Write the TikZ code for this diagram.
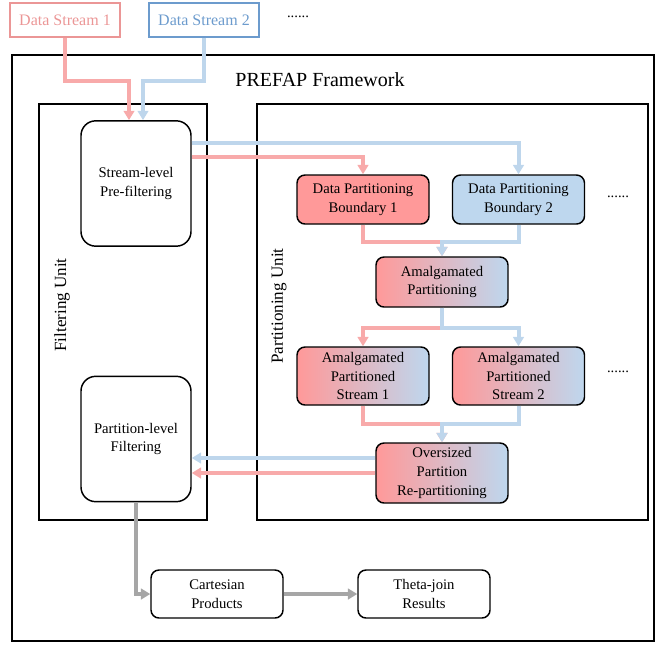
\documentclass[tikz,border=0pt]{standalone}
\usepackage{fontspec}
\setmainfont{Liberation Serif}
\usepackage{xcolor}
\usetikzlibrary{arrows.meta,calc}
\definecolor{lpink}{RGB}{248,170,170}
\definecolor{lblue}{RGB}{190,214,236}
\definecolor{dpink}{RGB}{235,150,150}
\definecolor{dblue}{RGB}{108,155,205}
\definecolor{fpink}{RGB}{255,153,153}
\definecolor{fblue}{RGB}{190,215,238}
\definecolor{lgray}{RGB}{166,166,166}
\tikzset{
    box/.style = {draw, line width=1.1pt, rounded corners=6pt, align=center,
        font=\fontsize{11}{14}\selectfont, minimum width=99pt},
    unit/.style = {box, rounded corners=11pt, minimum width=82.5pt, minimum height=94pt},
    mixed/.style = {box, left color=fpink, right color=fblue},
    src/.style = {draw=#1, text=#1, line width=1.1pt, minimum width=82.5pt,
        minimum height=25.5pt, font=\fontsize{12}{14}\selectfont},
    frame/.style = {draw, line width=1.1pt},
    pinkline/.style = {draw=lpink, line width=3pt, -{Triangle[width=8pt,length=7pt]}},
    blueline/.style = {draw=lblue, line width=3pt, -{Triangle[width=8pt,length=7pt]}},
    grayline/.style = {draw=lgray, line width=3pt, -{Triangle[width=8pt,length=7pt]}}
}

\begin{document}
\begin{tikzpicture}[x=0.75pt,y=-0.75pt]
        \useasboundingbox (0,0) rectangle (657,644);
        \draw[frame] (12,55) rectangle (654,641);
        \draw[frame] (39,104) rectangle (207,520);
        \draw[frame] (257,104) rectangle (648,520);
        \node[font=\fontsize{15}{18}\selectfont] (0) at (320,80) {PREFAP Framework};
        \node[rotate=90, font=\fontsize{12.8}{15}\selectfont] (f) at (62,305) {Filtering Unit};
        \node[rotate=90, font=\fontsize{12.8}{15}\selectfont] (p) at (279,306) {Partitioning Unit};

        \node[src=dpink] (1) at (65,20) {Data Stream 1};
        \node[src=dblue] (2) at (204,20) {Data Stream 2};
        \node[font=\fontsize{11}{14}\selectfont] (d1) at (298,17) {......};
        \node[unit] (3) at (136,183.5) {Stream-level\\Pre-filtering};
        \node[unit] (4) at (136,439) {Partition-level\\Filtering};
        \node[box, fill=fpink, minimum height=36.75pt] (5) at (363,199.5) {Data Partitioning\\Boundary 1};
        \node[box, fill=fblue, minimum height=36.75pt] (6) at (518.5,199.5) {Data Partitioning\\Boundary 2};
        \node[font=\fontsize{11}{14}\selectfont] (d2) at (618,197) {......};
        \node[mixed, minimum height=37.5pt] (7) at (442,282) {Amalgamated\\Partitioning};
        \node[mixed, minimum height=43.5pt] (8) at (363,376) {Amalgamated\\Partitioned\\Stream 1};
        \node[mixed, minimum height=43.5pt] (9) at (518.5,376) {Amalgamated\\Partitioned\\Stream 2};
        \node[font=\fontsize{11}{14}\selectfont] (d3) at (618,372) {......};
        \node[mixed, minimum height=45pt] (10) at (442,473) {Oversized\\Partition\\Re-partitioning};
        \node[box, minimum height=36pt] (11) at (217,594) {Cartesian\\Products};
        \node[box, minimum height=36pt] (12) at (424,594) {Theta-join\\Results};

        \coordinate (b) at ($(10.west)+(0,-15)$);
        \draw[pinkline] (1.south) -- ++(0,43) -| ($(3.north)+(-7,0)$);
        \draw[blueline] (2.south) -- ++(0,43) -| ($(3.north)+(7,0)$);
        \draw[blueline] ($(3.east)+(0,-40.5)$) -| (6.north);
        \draw[pinkline] ($(3.east)+(0,-26.5)$) -| (5.north);
        \draw[pinkline] (5.south) -- ++(0,17) -| (7.north);
        \draw[blueline] (6.south) -- ++(0,17) -| (7.north);
        \draw[pinkline] (7.south) -- ++(0,20) -| (8.north);
        \draw[blueline] (7.south) -- ++(0,20) -| (9.north);
        \draw[pinkline] (8.south) -- ++(0,18) -| (10.north);
        \draw[blueline] (9.south) -- ++(0,18) -| (10.north);
        \draw[blueline] (b) -- (b -| 4.east);
        \draw[pinkline] (10.west) -- (10.west -| 4.east);
        \draw[grayline] (4.south) |- (11.west);
        \draw[grayline] (11.east) -- (12.west);
    \end{tikzpicture}
\end{document}
